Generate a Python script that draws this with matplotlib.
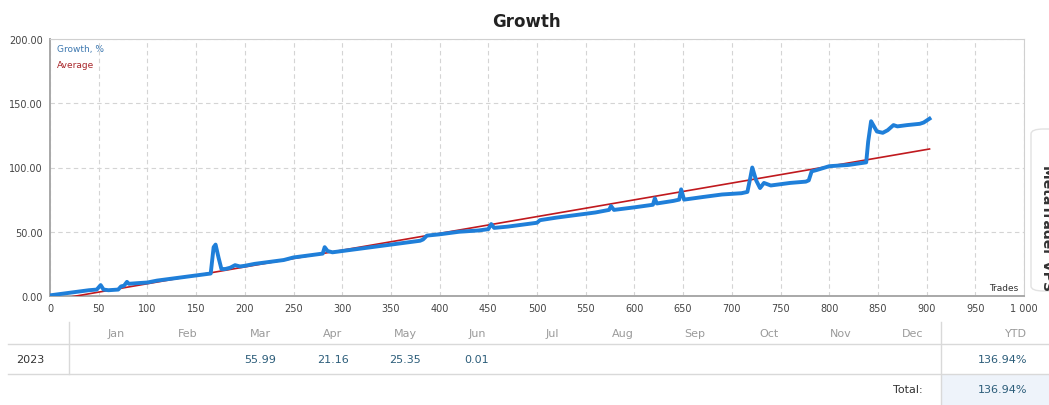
import numpy as np
import matplotlib
matplotlib.use('Agg')
import matplotlib.pyplot as plt
from matplotlib.patches import Rectangle, FancyBboxPatch
from matplotlib.ticker import FuncFormatter, MultipleLocator

# growth curve (trade number, growth %)
trades = [0, 10, 20, 30, 40, 48, 52, 55, 60, 70, 73, 76, 79, 81, 90, 100, 110, 120, 130,
          140, 150, 160, 165, 168, 170, 173, 176, 180, 185, 190, 195, 200, 210, 220, 230,
          240, 250, 260, 270, 280, 282, 285, 290, 300, 320, 340, 360, 380, 383, 387, 400,
          420, 440, 450, 453, 456, 470, 490, 500, 503, 520, 540, 560, 574, 576, 579, 600,
          619, 621, 623, 640, 646, 648, 651, 670, 690, 710, 716, 719, 721, 725, 729, 733,
          740, 760, 776, 779, 782, 787, 800, 820, 838, 840, 843, 849, 855, 860, 866, 870,
          880, 893, 897, 903]
growth = [0.5, 1.5, 2.5, 3.5, 4.5, 5, 8.5, 5, 4.5, 5, 7.5, 8, 11, 9.5, 10, 10.5, 12, 13, 14,
          15, 16, 17, 17.5, 38, 40, 30, 21, 21, 22, 24, 23, 23.5, 25, 26, 27,
          28, 30, 31, 32, 33, 38, 35, 34, 35, 37, 39, 41, 43, 44, 47, 48,
          50, 51, 52, 56, 53, 54, 56, 57, 59, 61, 63, 65, 67, 70, 67, 69,
          71, 76, 72, 74, 75, 83, 75, 77, 79, 80, 81, 92, 100, 90, 84, 88,
          86, 88, 89, 90, 97, 98, 101, 102, 104, 120, 136, 128, 127, 129, 133, 132,
          133, 134, 135, 138]

# average (trend) line end points
avg_trades = [0, 903]
avg_values = [-3.5, 114.4]

months = ['Jan', 'Feb', 'Mar', 'Apr', 'May', 'Jun', 'Jul', 'Aug', 'Sep', 'Oct', 'Nov', 'Dec']
month_x = [116, 188, 260, 333, 405, 477, 552, 623, 695, 769, 841, 913]
year = '2023'
month_vals = ['', '', '55.99', '21.16', '25.35', '0.01', '', '', '', '', '', '']
ytd = '136.94%'
total = '136.94%'

W, H = 1049, 406
fig = plt.figure(figsize=(W / 100, H / 100), dpi=100)


def fx(px):
    return px / W


def fy(py):
    return 1 - py / H


ax = fig.add_axes([fx(50), fy(297), fx(1024) - fx(50), fy(40) - fy(297)])
ax.plot(avg_trades, avg_values, color='#c0191e', lw=1.2, zorder=3)
ax.plot(trades, growth, color='#1f7fd9', lw=2.8, solid_joinstyle='round', zorder=4)

ax.set_xlim(0, 1000)
ax.set_ylim(0, 200)
ax.xaxis.set_major_locator(MultipleLocator(50))
ax.yaxis.set_major_locator(MultipleLocator(50))
ax.xaxis.set_major_formatter(FuncFormatter(lambda v, p: '1 000' if v >= 1000 else '%d' % v))
ax.yaxis.set_major_formatter(FuncFormatter(lambda v, p: '%.2f' % v))
ax.tick_params(length=0, labelsize=7, labelcolor='#444', pad=5)
ax.grid(True, color='#d4d4d4', lw=0.8, ls=(0, (4, 3)))
ax.set_axisbelow(True)
for s in ['left', 'bottom']:
    ax.spines[s].set_color('#a8a8a8')
    ax.spines[s].set_linewidth(1.4)
for s in ['top', 'right']:
    ax.spines[s].set_color('#d0d0d0')
    ax.spines[s].set_linewidth(0.8)

ax.text(0.007, 0.962, 'Growth, %', transform=ax.transAxes, fontsize=6.5, color='#3d78b0', va='center')
ax.text(0.007, 0.9, 'Average', transform=ax.transAxes, fontsize=6.5, color='#a8262a', va='center')
ax.text(0.994, 0.035, 'Trades', transform=ax.transAxes, fontsize=6.5, color='#333', ha='right', va='center')

fig.text(fx(526), fy(22), 'Growth', fontsize=12, fontweight='bold', color='#222', ha='center', va='center')

# table below the chart
fig.add_artist(Rectangle((fx(941), 0), 1 - fx(941), fy(376), color='#eef3fa', lw=0, zorder=0))
fig.add_artist(plt.Line2D([fx(8), 1], [fy(345), fy(345)], color='#d9d9d9', lw=1))
fig.add_artist(plt.Line2D([fx(8), 1], [fy(375), fy(375)], color='#d9d9d9', lw=1))
fig.add_artist(plt.Line2D([fx(69), fx(69)], [fy(323), fy(375)], color='#d9d9d9', lw=1))
fig.add_artist(plt.Line2D([fx(941), fx(941)], [fy(323), 0], color='#d9d9d9', lw=1))

for m, x, v in zip(months, month_x, month_vals):
    fig.text(fx(x), fy(334), m, fontsize=8, color='#9a9a9a', ha='center', va='center')
    if v:
        fig.text(fx(x), fy(360), v, fontsize=8, color='#2c5d7a', ha='center', va='center')
fig.text(fx(1027), fy(334), 'YTD', fontsize=8, color='#9a9a9a', ha='right', va='center')
fig.text(fx(30), fy(360), year, fontsize=8, color='#333', ha='center', va='center')
fig.text(fx(1027), fy(360), ytd, fontsize=8, color='#2c5d7a', ha='right', va='center')
fig.text(fx(923), fy(390), 'Total:', fontsize=8, color='#333', ha='right', va='center')
fig.text(fx(1027), fy(390), total, fontsize=8, color='#2c5d7a', ha='right', va='center')

# side widget overlapping the page
fig.add_artist(FancyBboxPatch((fx(1031), fy(292)), 0.05, fy(130) - fy(292),
                              boxstyle='round,pad=0,rounding_size=0.012',
                              fc='white', ec='#e2e2e2', lw=1, zorder=5))
fig.text(fx(1047), fy(165), 'MetaTrader VPS', fontsize=10, fontweight='bold', color='#333',
         rotation=270, ha='center', va='top', zorder=6)

fig.savefig('out.png', dpi=100)
